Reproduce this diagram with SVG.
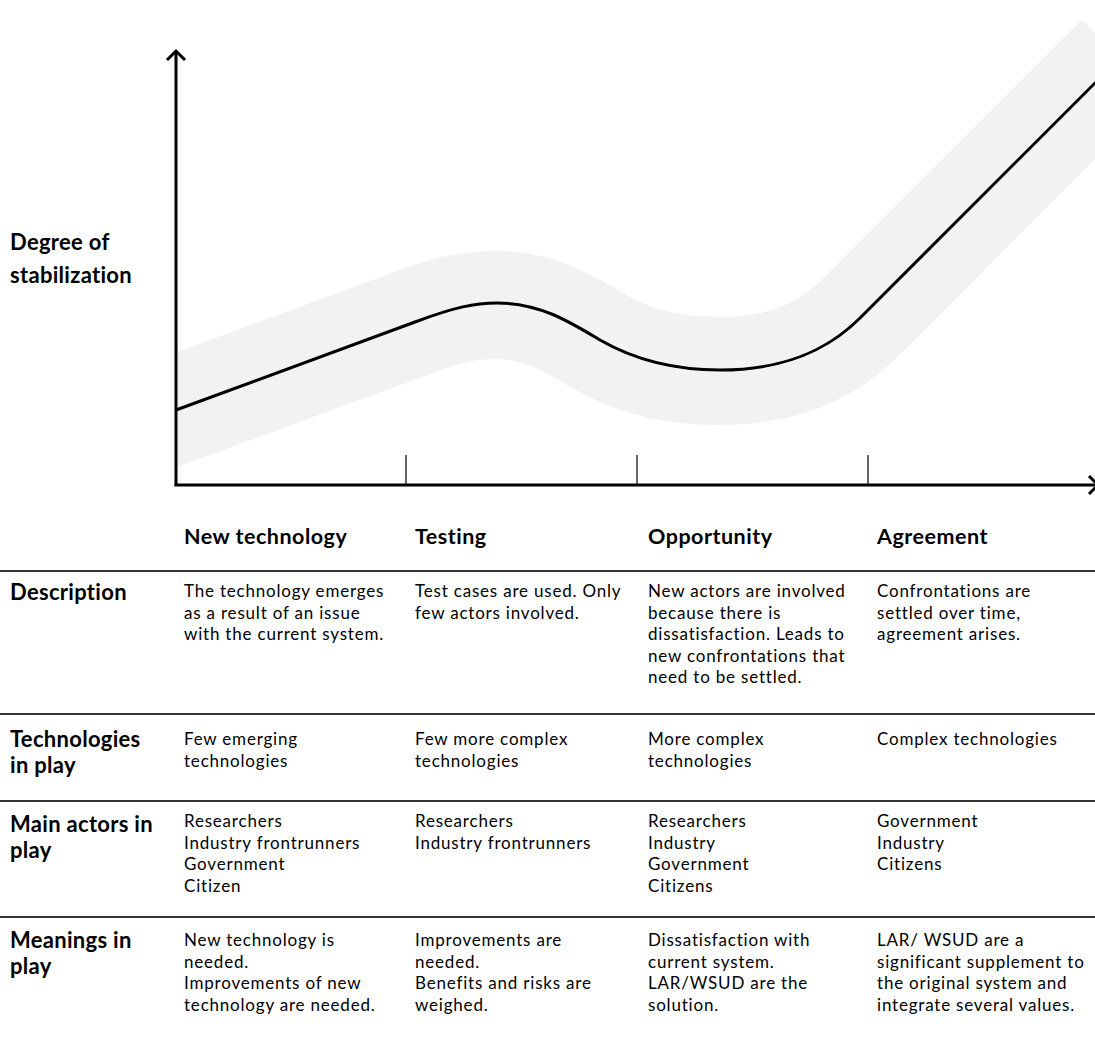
<svg xmlns="http://www.w3.org/2000/svg" width="1095" height="1055" viewBox="0 0 1095 1055">
<style>
.lbl{font-family:Lato,"Open Sans","Liberation Sans",sans-serif;font-weight:bold;font-size:22px;letter-spacing:0.3px;fill:#000}
.hdr{font-family:Lato,"Open Sans","Liberation Sans",sans-serif;font-weight:bold;font-size:21.5px;letter-spacing:0.5px;fill:#000}
.txt{font-family:Lato,"Open Sans","Liberation Sans",sans-serif;font-size:17px;letter-spacing:0.8px;fill:#000}
.rule{stroke:#333;stroke-width:2}
.axis{stroke:#000;stroke-width:3;fill:none}
.tick{stroke:#000;stroke-width:1.2}
</style>
<defs>
<clipPath id="plot"><rect x="178" y="0" width="917" height="484"/></clipPath>
</defs>
<rect width="1095" height="1055" fill="#fff"/>
<g id="band" clip-path="url(#plot)">
<path d="M100,438 L176,410 L415,322 C455,307 475,305 497,305 C540,305 570,324 600,342 C640,365 680,371 720,371 C780,371 825,353 860,318 L1120,58" fill="none" stroke="#f2f2f2" stroke-width="108"/>
</g>
<g id="curve">
<path d="M176,410 L415,322 C455,307 475,303 497,303 C540,303 570,322 600,340 C640,363 680,370 720,370 C780,370 825,353 860,318 L1120,58" fill="none" stroke="#000" stroke-width="3"/>
</g>
<g id="connectors">
<line class="axis" x1="176" y1="486" x2="176" y2="51"/>
<polyline class="axis" points="167,60 176,51 185,60"/>
<line class="axis" x1="174.5" y1="485" x2="1096" y2="485"/>
<polyline class="axis" points="1089,476 1098,485 1089,494"/>
<line class="tick" x1="406" y1="455" x2="406" y2="485"/>
<line class="tick" x1="637" y1="455" x2="637" y2="485"/>
<line class="tick" x1="868" y1="455" x2="868" y2="485"/>
</g>
<g id="yLabel">
<text class="lbl" x="10" y="250">Degree of</text>
<text class="lbl" x="10" y="283">stabilization</text>
</g>
<g id="headers">
<text class="hdr" x="184" y="544">New technology</text>
<text class="hdr" x="415" y="544">Testing</text>
<text class="hdr" x="648" y="544">Opportunity</text>
<text class="hdr" x="877" y="544">Agreement</text>
</g>
<g id="rules">
<line class="rule" x1="0" y1="571" x2="1095" y2="571"/>
<line class="rule" x1="0" y1="714" x2="1095" y2="714"/>
<line class="rule" x1="0" y1="801" x2="1095" y2="801"/>
<line class="rule" x1="0" y1="917" x2="1095" y2="917"/>
</g>
<g id="row-description">
<text class="lbl" x="10" y="600">Description</text>
<text class="txt" x="184" y="597">The technology emerges</text>
<text class="txt" x="184" y="618.5">as a result of an issue</text>
<text class="txt" x="184" y="640">with the current system.</text>
<text class="txt" x="415" y="597">Test cases are used. Only</text>
<text class="txt" x="415" y="618.5">few actors involved.</text>
<text class="txt" x="648" y="597">New actors are involved</text>
<text class="txt" x="648" y="618.5">because there is</text>
<text class="txt" x="648" y="640">dissatisfaction. Leads to</text>
<text class="txt" x="648" y="661.5">new confrontations that</text>
<text class="txt" x="648" y="683">need to be settled.</text>
<text class="txt" x="877" y="597">Confrontations are</text>
<text class="txt" x="877" y="618.5">settled over time,</text>
<text class="txt" x="877" y="640">agreement arises.</text>
</g>
<g id="row-technologies">
<text class="lbl" x="10" y="747">Technologies</text>
<text class="lbl" x="10" y="773">in play</text>
<text class="txt" x="184" y="745">Few emerging</text>
<text class="txt" x="184" y="766.5">technologies</text>
<text class="txt" x="415" y="745">Few more complex</text>
<text class="txt" x="415" y="766.5">technologies</text>
<text class="txt" x="648" y="745">More complex</text>
<text class="txt" x="648" y="766.5">technologies</text>
<text class="txt" x="877" y="745">Complex technologies</text>
</g>
<g id="row-actors">
<text class="lbl" x="10" y="832">Main actors in</text>
<text class="lbl" x="10" y="858">play</text>
<text class="txt" x="184" y="827">Researchers</text>
<text class="txt" x="184" y="848.5">Industry frontrunners</text>
<text class="txt" x="184" y="870">Government</text>
<text class="txt" x="184" y="891.5">Citizen</text>
<text class="txt" x="415" y="827">Researchers</text>
<text class="txt" x="415" y="848.5">Industry frontrunners</text>
<text class="txt" x="648" y="827">Researchers</text>
<text class="txt" x="648" y="848.5">Industry</text>
<text class="txt" x="648" y="870">Government</text>
<text class="txt" x="648" y="891.5">Citizens</text>
<text class="txt" x="877" y="827">Government</text>
<text class="txt" x="877" y="848.5">Industry</text>
<text class="txt" x="877" y="870">Citizens</text>
</g>
<g id="row-meanings">
<text class="lbl" x="10" y="948">Meanings in</text>
<text class="lbl" x="10" y="974">play</text>
<text class="txt" x="184" y="946">New technology is</text>
<text class="txt" x="184" y="967.5">needed.</text>
<text class="txt" x="184" y="989">Improvements of new</text>
<text class="txt" x="184" y="1010.5">technology are needed.</text>
<text class="txt" x="415" y="946">Improvements are</text>
<text class="txt" x="415" y="967.5">needed.</text>
<text class="txt" x="415" y="989">Benefits and risks are</text>
<text class="txt" x="415" y="1010.5">weighed.</text>
<text class="txt" x="648" y="946">Dissatisfaction with</text>
<text class="txt" x="648" y="967.5">current system.</text>
<text class="txt" x="648" y="989">LAR/WSUD are the</text>
<text class="txt" x="648" y="1010.5">solution.</text>
<text class="txt" x="877" y="946">LAR/ WSUD are a</text>
<text class="txt" x="877" y="967.5">significant supplement to</text>
<text class="txt" x="877" y="989">the original system and</text>
<text class="txt" x="877" y="1010.5">integrate several values.</text>
</g>
</svg>
